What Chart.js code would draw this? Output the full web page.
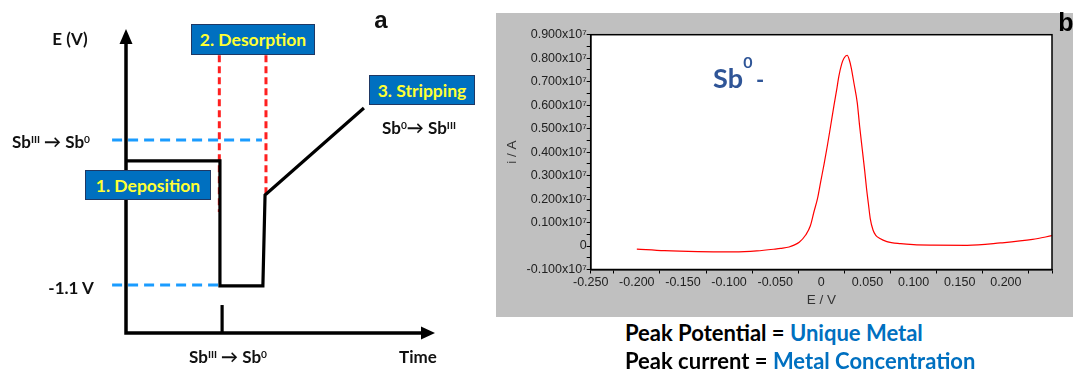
<!DOCTYPE html>
<html>
<head>
<meta charset="utf-8">
<script src="https://cdn.jsdelivr.net/npm/chart.js@4/dist/chart.umd.min.js"></script>
<style>
    html, body { margin: 0; padding: 0; background: #fff; }
    #page { position: relative; width: 1075px; height: 370px; overflow: hidden; font-family: Lato, "Open Sans", sans-serif; }
    #schemeCanvas { position: absolute; left: 0; top: 0; }
    #panelB { position: absolute; left: 496px; top: 13px; width: 577px; height: 304px; background: #c0c0c0; }
    #voltCanvas { position: absolute; left: 0; top: 0; }
    .lbl { position: absolute; transform: translate(-50%, -50%); white-space: nowrap; font-weight: 700; color: #111; }
    .lbl sup { font-size: 60%; vertical-align: 0; position: relative; top: -0.5em; }
    .box { position: absolute; box-sizing: border-box; background: #0070c0; border: 1.5px solid #1f3864;
           color: #ffff33; font-weight: 700; font-size: 17.5px; display: flex; align-items: center; justify-content: center; }
    .note { position: absolute; left: 625px; font-weight: 700; font-size: 22px; color: #000; white-space: nowrap; transform: translateY(-50%); }
    .note span { color: #0070c0; }
</style>
</head>
<body>
<div id="page">
    <canvas id="schemeCanvas" width="490" height="370"></canvas>

    <div class="lbl" style="left:70px; top:38px; font-size:17px;">E (V)</div>
    <div class="lbl" style="left:381px; top:20px; font-size:24px; font-family:'Liberation Sans', Arial, sans-serif;">a</div>
    <div class="lbl" style="left:51px; top:141px; font-size:17px;">Sb<sup>III</sup> &rarr; Sb<sup>0</sup></div>
    <div class="lbl" style="left:71px; top:287px; font-size:17px;">-1.1 V</div>
    <div class="lbl" style="left:228px; top:356px; font-size:17px;">Sb<sup>III</sup> &rarr; Sb<sup>0</sup></div>
    <div class="lbl" style="left:418px; top:356px; font-size:17px;">Time</div>
    <div class="lbl" style="left:419px; top:127px; font-size:17px;">Sb<sup>0</sup>&rarr; Sb<sup>III</sup></div>

    <div class="box" style="left:191px; top:24px; width:124px; height:31px;">2. Desorption</div>
    <div class="box" style="left:369px; top:75px; width:106px; height:30px;">3. Stripping</div>
    <div class="box" style="left:85px; top:170px; width:126px; height:30px;">1. Deposition</div>

    <div id="panelB">
        <canvas id="voltCanvas" width="577" height="304"></canvas>
    </div>
    <div class="lbl" style="left:1066px; top:22px; font-size:25px; font-family:'Liberation Sans', Arial, sans-serif; color:#000;">b</div>
    <div class="lbl" style="left:728px; top:77px; font-size:27px; color:#2f5597;">Sb</div>
    <div class="lbl" style="left:748px; top:61px; font-size:16px; color:#2f5597;">0</div>
    <div class="lbl" style="left:760px; top:79px; font-size:22px; color:#2f5597;">-</div>

    <div class="note" style="top:332px;">Peak Potential = <span>Unique Metal</span></div>
    <div class="note" style="top:360px;">Peak current = <span>Metal Concentration</span></div>
</div>

<script>
// ---- panel a: potential step schematic (arbitrary units, 0..100) ----
const stepTime = [0, 30.4, 30.4, 44.3, 45.0, 77.0];
const stepPotential = [56.6, 56.6, 15.5, 15.5, 45.4, 74.0];

const desorbStartTime = [30.2, 30.2];
const desorbStartE = [91.4, 39.8];
const desorbEndTime = [45.3, 45.3];
const desorbEndE = [91.4, 45.4];

const reduceLevelTime = [-4.5, 44.0];
const reduceLevelE = [63.5, 63.5];
const depositLevelTime = [-4.5, 30.4];
const depositLevelE = [15.8, 15.8];

const markTime = [31.1, 31.1];
const markE = [0, 9.2];

// ---- panel b: stripping voltammogram ----
const potentialV = [-0.2, -0.17, -0.134, -0.095, -0.07, -0.05, -0.044, -0.035, -0.0296, -0.024,
    -0.017, -0.012, -0.008, -0.004, -0.0008, 0.003, 0.0065, 0.010, 0.0136, 0.017,
    0.019, 0.022, 0.0245, 0.028, 0.0305, 0.0324, 0.0355, 0.0389, 0.0415, 0.0443,
    0.047, 0.049, 0.051, 0.053, 0.056, 0.059, 0.063, 0.071, 0.086, 0.1,
    0.121, 0.158, 0.194, 0.229, 0.25];
const currentA = [-0.013, -0.020, -0.024, -0.025, -0.021, -0.013, -0.010, -0.004, 0.004, 0.016,
    0.047, 0.085, 0.146, 0.205, 0.272, 0.35, 0.427, 0.51, 0.597, 0.675,
    0.724, 0.775, 0.80, 0.8125, 0.79, 0.759, 0.69, 0.611, 0.51, 0.413,
    0.32, 0.244, 0.18, 0.117, 0.068, 0.045, 0.033, 0.019, 0.010, 0.006,
    0.004, 0.003, 0.013, 0.028, 0.044];

const toPoints = (xs, ys) => xs.map((x, i) => ({ x: x, y: ys[i] }));

const lineSet = (xs, ys, color, width, dash) => ({
    data: toPoints(xs, ys),
    showLine: true,
    borderColor: color,
    borderWidth: width,
    borderDash: dash || [],
    pointRadius: 0,
    clip: false,
    tension: 0
});

const arrowAxesPlugin = {
    id: 'arrowAxes',
    beforeDatasetsDraw: (chart) => {
        const { ctx } = chart;
        const xs = chart.scales.x;
        const ys = chart.scales.y;
        const ox = xs.getPixelForValue(0);
        const oy = ys.getPixelForValue(0);
        const topY = ys.getPixelForValue(100);
        const rightX = xs.getPixelForValue(100);
        ctx.save();
        ctx.strokeStyle = '#000';
        ctx.fillStyle = '#000';
        ctx.lineWidth = 3.5;
        ctx.lineCap = 'square';
        ctx.beginPath();
        ctx.moveTo(ox, topY + 12);
        ctx.lineTo(ox, oy);
        ctx.lineTo(rightX - 12, oy);
        ctx.stroke();
        ctx.beginPath();
        ctx.moveTo(ox, topY);
        ctx.lineTo(ox - 6.5, topY + 15);
        ctx.lineTo(ox + 6.5, topY + 15);
        ctx.closePath();
        ctx.fill();
        ctx.beginPath();
        ctx.moveTo(rightX, oy);
        ctx.lineTo(rightX - 14, oy - 6.5);
        ctx.lineTo(rightX - 14, oy + 6.5);
        ctx.closePath();
        ctx.fill();
        ctx.restore();
    }
};

new Chart(document.getElementById('schemeCanvas'), {
    type: 'scatter',
    data: {
        datasets: [
            lineSet(reduceLevelTime, reduceLevelE, '#1a9cff', 3, [10, 6]),
            lineSet(depositLevelTime, depositLevelE, '#1a9cff', 3, [10, 6]),
            lineSet(stepTime, stepPotential, '#000', 3.2),
            lineSet(markTime, markE, '#000', 3.2),
            lineSet(desorbStartTime, desorbStartE, '#ff2020', 3, [7, 4]),
            lineSet(desorbEndTime, desorbEndE, '#ff2020', 3, [7, 4])
        ]
    },
    options: {
        responsive: false,
        animation: false,
        layout: { padding: { left: 126, right: 55, top: 29, bottom: 37 } },
        plugins: { legend: { display: false }, tooltip: { enabled: false } },
        scales: {
            x: { type: 'linear', min: 0, max: 100, display: false },
            y: { type: 'linear', min: 0, max: 100, display: false }
        }
    },
    plugins: [arrowAxesPlugin]
});

// ---- panel b chart ----
const isMajorX = (v) => Math.abs(Math.round(v * 1000) % 50) === 0;
const isMajorY = (v) => Math.abs(Math.round(v * 1000) % 100) === 0;

const plotFramePlugin = {
    id: 'plotFrame',
    beforeDraw: (chart) => {
        const { ctx, chartArea: a } = chart;
        ctx.save();
        ctx.fillStyle = '#fff';
        ctx.fillRect(a.left, a.top, a.right - a.left, a.bottom - a.top);
        ctx.restore();
    },
    afterDraw: (chart) => {
        const { ctx, chartArea: a } = chart;
        ctx.save();
        ctx.strokeStyle = '#000';
        ctx.lineWidth = 1.5;
        ctx.strokeRect(a.left, a.top, a.right - a.left, a.bottom - a.top);
        ctx.restore();
    }
};

const tickFont = { family: "'Liberation Sans', Arial, sans-serif", size: 12.5 };

new Chart(document.getElementById('voltCanvas'), {
    type: 'scatter',
    data: {
        datasets: [{
            data: toPoints(potentialV, currentA),
            showLine: true,
            borderColor: '#ff0000',
            borderWidth: 1.2,
            pointRadius: 0,
            cubicInterpolationMode: 'monotone'
        }]
    },
    options: {
        responsive: false,
        animation: false,
        layout: { padding: { left: 0, right: 21, top: 21.7, bottom: 0 } },
        plugins: { legend: { display: false }, tooltip: { enabled: false } },
        scales: {
            x: {
                type: 'linear',
                min: -0.25,
                max: 0.25,
                afterFit: (scale) => { scale.height = 47.5; },
                border: { color: '#000', width: 1.5 },
                grid: {
                    drawOnChartArea: false,
                    tickLength: 4,
                    tickColor: (c) => {
                        const v = c.tick ? c.tick.value : 0;
                        if (Math.abs(Math.abs(v) - 0.25) < 1e-6) return '#000';
                        return isMajorX(v) ? 'rgba(0,0,0,0)' : '#000';
                    }
                },
                ticks: {
                    stepSize: 0.025,
                    autoSkip: false,
                    maxRotation: 0,
                    padding: 2,
                    color: '#222',
                    font: tickFont,
                    callback: (v) => {
                        if (!isMajorX(v) || v > 0.2499) return '';
                        if (Math.abs(v) < 1e-9) return '0';
                        return v.toFixed(3);
                    }
                },
                title: {
                    display: true,
                    text: 'E / V',
                    color: '#333',
                    font: { family: "'Liberation Sans', Arial, sans-serif", size: 13.5 },
                    padding: { top: 0, bottom: 9 }
                }
            },
            y: {
                type: 'linear',
                min: -0.1,
                max: 0.9,
                afterFit: (scale) => { scale.width = 94.7; },
                border: { color: '#000', width: 1.5 },
                grid: { drawOnChartArea: false, tickLength: 4, tickColor: '#000' },
                ticks: {
                    stepSize: 0.05,
                    autoSkip: false,
                    padding: 0,
                    color: '#222',
                    font: tickFont,
                    callback: (v) => {
                        if (!isMajorY(v)) return '';
                        if (Math.abs(v) < 1e-9) return '0';
                        return v.toFixed(3) + 'x10\u2077';
                    }
                },
                title: {
                    display: true,
                    text: 'i / A',
                    color: '#333',
                    font: { family: "'Liberation Sans', Arial, sans-serif", size: 13.5 },
                    padding: { top: 8, bottom: 0 }
                }
            }
        }
    },
    plugins: [plotFramePlugin]
});
</script>
</body>
</html>
